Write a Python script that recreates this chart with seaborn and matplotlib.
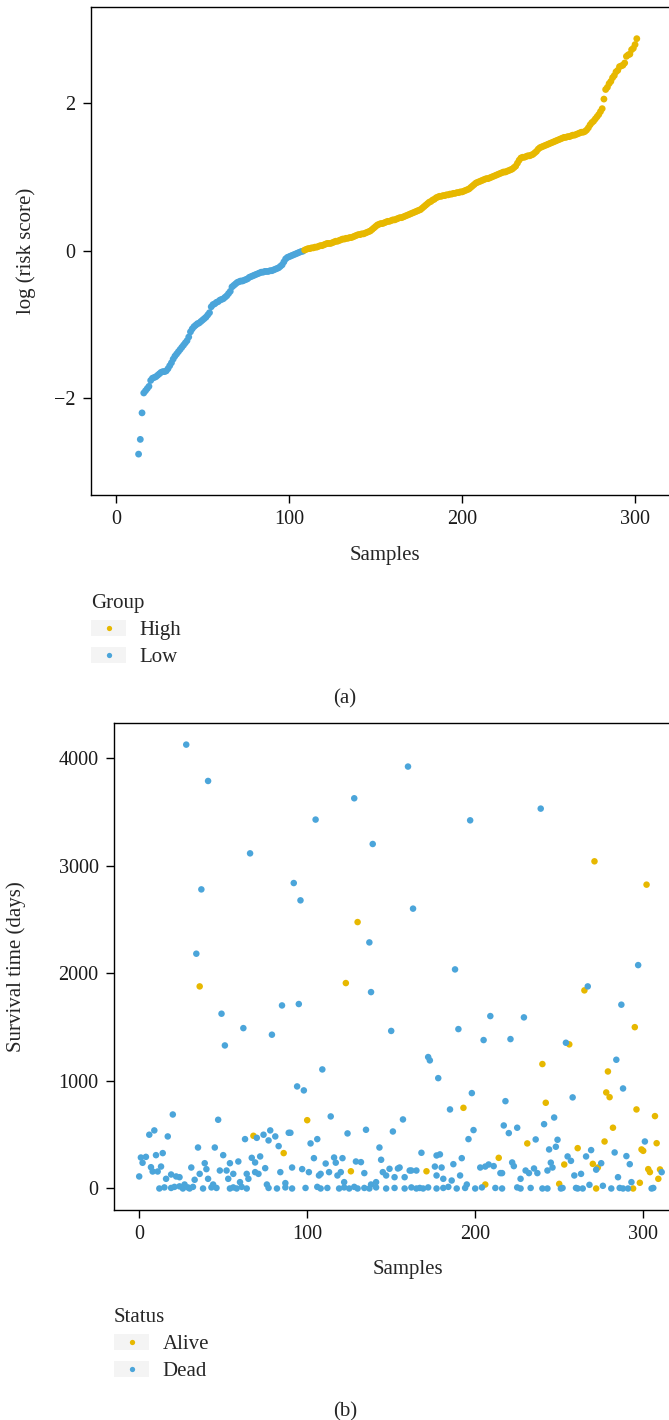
import numpy as np
import pandas as pd
import matplotlib
matplotlib.use("Agg")
import matplotlib.pyplot as plt
import seaborn as sns
from matplotlib.patches import Patch
from matplotlib.lines import Line2D

# ---- panel (a): sorted log risk score per sample (samples start at 13) ----
first_sample = 13
log_risk = [
    -2.76, -2.56, -2.20, -1.93, -1.90, -1.87, -1.84, -1.76, -1.73, -1.72,
    -1.71, -1.69, -1.67, -1.65, -1.64, -1.64, -1.63, -1.60, -1.56, -1.52,
    -1.47, -1.43, -1.40, -1.37, -1.34, -1.31, -1.28, -1.25, -1.22, -1.17,
    -1.10, -1.06, -1.03, -1.01, -0.99, -0.98, -0.96, -0.94, -0.92, -0.90,
    -0.87, -0.84, -0.76, -0.73, -0.72, -0.70, -0.69, -0.67, -0.66, -0.65,
    -0.63, -0.61, -0.58, -0.55, -0.49, -0.47, -0.45, -0.43, -0.42, -0.41,
    -0.41, -0.40, -0.39, -0.38, -0.36, -0.35, -0.34, -0.33, -0.32, -0.31,
    -0.30, -0.29, -0.29, -0.28, -0.28, -0.28, -0.27, -0.27, -0.26, -0.25,
    -0.24, -0.23, -0.21, -0.19, -0.15, -0.11, -0.09, -0.08, -0.07, -0.06,
    -0.05, -0.04, -0.03, -0.02, -0.01, -0.005,
    0.01, 0.02, 0.03, 0.03, 0.04, 0.04, 0.05, 0.05, 0.06, 0.07,
    0.07, 0.08, 0.09, 0.10, 0.10, 0.10, 0.11, 0.12, 0.13, 0.13,
    0.14, 0.15, 0.16, 0.16, 0.17, 0.17, 0.18, 0.18, 0.19, 0.20,
    0.21, 0.22, 0.22, 0.23, 0.23, 0.24, 0.25, 0.26, 0.27, 0.29,
    0.31, 0.33, 0.35, 0.36, 0.37, 0.37, 0.38, 0.39, 0.40, 0.40,
    0.41, 0.42, 0.42, 0.43, 0.44, 0.45, 0.45, 0.46, 0.47, 0.48,
    0.49, 0.50, 0.51, 0.52, 0.53, 0.54, 0.55, 0.56, 0.58, 0.60,
    0.62, 0.64, 0.66, 0.67, 0.69, 0.70, 0.72, 0.73, 0.74, 0.74,
    0.75, 0.75, 0.76, 0.76, 0.77, 0.77, 0.78, 0.78, 0.79, 0.79,
    0.80, 0.80, 0.81, 0.82, 0.83, 0.84, 0.86, 0.88, 0.90, 0.92,
    0.93, 0.94, 0.95, 0.96, 0.97, 0.98, 0.98, 0.99, 1.00, 1.01,
    1.02, 1.03, 1.04, 1.05, 1.06, 1.07, 1.07, 1.08, 1.09, 1.10,
    1.11, 1.13, 1.15, 1.19, 1.23, 1.26, 1.27, 1.27, 1.28, 1.29,
    1.29, 1.30, 1.31, 1.33, 1.35, 1.38, 1.40, 1.41, 1.42, 1.43,
    1.44, 1.45, 1.46, 1.47, 1.48, 1.49, 1.50, 1.51, 1.52, 1.53,
    1.54, 1.54, 1.55, 1.55, 1.56, 1.57, 1.57, 1.58, 1.59, 1.60,
    1.61, 1.61, 1.62, 1.64, 1.67, 1.71, 1.74, 1.76, 1.79, 1.82,
    1.85, 1.89, 1.93, 2.06, 2.19, 2.22, 2.27, 2.30, 2.35, 2.38,
    2.43, 2.45, 2.50, 2.51, 2.52, 2.55, 2.64, 2.66, 2.67, 2.73,
    2.75, 2.80, 2.88,
]

# ---- panel (b): survival time per sample, split by status ----
alive_pts = [
    (271, 3042), (130, 2477), (302, 2825), (36, 1879), (123, 1910), (265, 1842),
    (295, 1500), (100, 635), (256, 1340), (240, 1157), (279, 1088), (193, 750),
    (242, 797), (278, 893), (280, 849), (296, 735), (307, 673), (68, 490),
    (86, 329), (231, 419), (261, 375), (277, 437), (282, 565), (299, 363),
    (300, 350), (308, 421), (214, 285), (253, 223), (270, 229), (273, 195),
    (303, 180), (310, 177), (171, 160), (126, 160), (304, 152), (309, 90),
    (298, 53), (206, 37), (250, 43), (272, 0), (294, 0),
]
dead_pts = [
    (28, 4127), (41, 3789), (66, 3116), (105, 3430), (128, 3628), (139, 3203),
    (160, 3923), (197, 3423), (239, 3532), (37, 2781), (92, 2840), (96, 2679),
    (163, 2602), (137, 2288), (34, 2183), (138, 1826), (188, 2037), (297, 2077),
    (267, 1879), (85, 1702), (95, 1715), (49, 1625), (209, 1603), (229, 1591),
    (287, 1709), (62, 1491), (150, 1465), (190, 1482), (79, 1430), (51, 1330),
    (109, 1107), (94, 949), (98, 912), (20, 688), (47, 639), (114, 670),
    (205, 1380), (221, 1389), (254, 1355), (172, 1222), (173, 1191), (284, 1197),
    (178, 1026), (198, 887), (218, 812), (185, 735), (288, 930), (258, 847),
    (157, 642), (247, 660),
    (6, 500), (9, 540), (17, 484), (35, 381), (45, 381), (63, 459), (70, 471),
    (74, 500), (77, 447), (78, 540), (81, 484), (83, 394), (89, 518), (90, 518),
    (102, 419), (106, 459), (10, 310), (14, 329), (50, 310), (124, 512),
    (135, 546), (151, 530), (143, 381), (168, 332), (177, 307), (179, 317),
    (196, 459), (199, 543), (217, 586), (220, 515), (225, 565), (236, 456),
    (241, 598), (244, 363), (248, 388), (249, 453), (269, 357), (283, 335),
    (290, 301), (301, 437),
    (1, 288), (2, 239), (4, 294), (7, 198), (13, 204), (31, 195), (39, 235),
    (40, 180), (54, 235), (59, 251), (67, 285), (69, 242), (72, 298), (75, 189),
    (91, 195), (97, 180), (104, 282), (111, 232), (116, 288), (121, 282),
    (117, 240), (129, 251), (132, 245), (144, 267), (155, 195), (154, 186),
    (176, 204), (180, 195), (187, 226), (192, 282), (203, 195), (206, 204),
    (208, 223), (211, 208), (222, 242), (223, 208), (235, 186), (245, 240),
    (246, 195), (255, 298), (257, 257), (266, 298), (275, 235), (292, 226),
    (272, 175),
    (0, 112), (8, 158), (11, 158), (16, 90), (19, 130), (22, 112), (24, 105),
    (27, 37), (33, 81), (36, 136), (41, 90), (44, 37), (48, 167), (52, 167),
    (53, 90), (56, 136), (60, 59), (64, 136), (65, 90), (69, 152), (71, 136),
    (76, 37), (84, 152), (87, 50), (101, 152), (107, 121), (108, 136),
    (113, 152), (118, 121), (120, 152), (122, 59), (134, 143), (138, 37),
    (141, 59), (145, 152), (147, 121), (149, 183), (152, 105), (158, 105),
    (161, 167), (162, 167), (165, 167), (177, 121), (181, 90), (186, 74),
    (191, 121), (195, 37), (215, 143), (216, 143), (227, 90), (230, 167),
    (232, 143), (237, 143), (243, 167), (259, 121), (263, 136), (285, 105),
    (293, 59), (311, 152),
    (12, 0), (15, 10), (19, 5), (21, 15), (24, 20), (26, 0), (29, 10), (30, 0),
    (32, 15), (38, 0), (43, 10), (46, 5), (54, 0), (56, 10), (58, 0), (61, 15),
    (64, 0), (77, 5), (82, 0), (87, 10), (91, 0), (99, 5), (106, 15), (108, 0),
    (112, 5), (119, 0), (122, 10), (125, 0), (128, 15), (130, 0), (134, 5),
    (137, 0), (141, 10), (147, 0), (152, 5), (158, 0), (162, 10), (165, 0),
    (167, 5), (169, 0), (172, 10), (177, 0), (181, 5), (184, 15), (189, 0),
    (194, 5), (200, 0), (204, 10), (212, 5), (216, 0), (225, 10), (227, 0),
    (233, 5), (240, 0), (243, 0), (251, 0), (252, 5), (260, 5), (261, 0),
    (264, 0), (268, 34), (276, 25), (281, 0), (286, 5), (288, 0), (291, 0),
    (305, 0), (306, 5),
]

yellow = "#E7B800"
blue = "#4BA5DA"

sns.set_style("ticks")
plt.rcParams["font.family"] = ["Liberation Serif", "DejaVu Serif"]
plt.rcParams["axes.linewidth"] = 1.0

df_a = pd.DataFrame({
    "sample": np.arange(first_sample, first_sample + len(log_risk)),
    "risk": log_risk,
})
df_a["group"] = np.where(df_a["risk"] > 0, "High", "Low")

alive = np.array(alive_pts)
dead = np.array(dead_pts)
df_b = pd.DataFrame({
    "sample": np.concatenate([alive[:, 0], dead[:, 0]]),
    "days": np.concatenate([alive[:, 1], dead[:, 1]]),
    "status": ["Alive"] * len(alive) + ["Dead"] * len(dead),
})

W, H = 669, 1420
fig = plt.figure(figsize=(W / 100, H / 100), dpi=100)


def fig_box(left, top, right, bottom):
    return [left / W, 1 - bottom / H, (right - left) / W, (bottom - top) / H]


ax_a = fig.add_axes(fig_box(91, 7, 679, 495))
ax_b = fig.add_axes(fig_box(114, 723, 702, 1210))

sns.scatterplot(data=df_a, x="sample", y="risk", hue="group",
                palette={"High": yellow, "Low": blue}, s=24, linewidth=0,
                legend=False, ax=ax_a)
sns.scatterplot(data=df_b, x="sample", y="days", hue="status",
                palette={"Alive": yellow, "Dead": blue}, s=22, linewidth=0,
                legend=False, ax=ax_b)

ax_a.set_xlim(-14.5, 325.4)
ax_a.set_ylim(-3.315, 3.31)
ax_a.set_xticks([0, 100, 200, 300])
ax_a.set_yticks([-2, 0, 2])
ax_a.set_ylabel("log (risk score)", fontsize=15)
ax_a.set_xlabel("Samples", fontsize=15)

ax_b.set_xlim(-15, 335)
ax_b.set_ylim(-200, 4328)
ax_b.set_xticks([0, 100, 200, 300])
ax_b.set_yticks([0, 1000, 2000, 3000, 4000])
ax_b.set_ylabel("Survival time (days)", fontsize=15)
ax_b.set_xlabel("Samples", fontsize=15)

for ax in (ax_a, ax_b):
    for sp in ax.spines.values():
        sp.set_visible(True)
        sp.set_color("black")
        sp.set_linewidth(1.0)
    ax.tick_params(axis="both", direction="out", length=6, width=1.0,
                   color="black", labelsize=14.5, labelcolor="#1a1a1a")
    ax.tick_params(axis="y", pad=5)
    ax.tick_params(axis="x", pad=4.5)

ax_a.yaxis.set_label_coords(-0.094, 0.5)
ax_a.xaxis.set_label_coords(0.5, -0.104)
ax_b.yaxis.set_label_coords(-0.15, 0.5)
ax_b.xaxis.set_label_coords(0.5, -0.102)


def key(color):
    return (Patch(facecolor="#f4f4f4", edgecolor="none"),
            Line2D([], [], marker="o", ls="", color=color,
                   markersize=3.8, markeredgewidth=0))


legend_kw = dict(loc="upper left", bbox_transform=fig.transFigure,
                 frameon=False, alignment="left", fontsize=15,
                 title_fontsize=15, handlelength=1.7, handleheight=0.78,
                 handletextpad=0.62, borderpad=0, borderaxespad=0,
                 labelspacing=0.34)
ax_a.legend([key(yellow), key(blue)], ["High", "Low"], title="Group",
            bbox_to_anchor=(91 / W, 1 - 594 / H), **legend_kw)
ax_b.legend([key(yellow), key(blue)], ["Alive", "Dead"], title="Status",
            bbox_to_anchor=(114 / W, 1 - 1308 / H), **legend_kw)

fig.text(345 / W, 1 - 699 / H, "(a)", ha="center", va="center", fontsize=15)
fig.text(345 / W, 1 - 1412 / H, "(b)", ha="center", va="center", fontsize=15)

fig.savefig("out.png", dpi=100)
